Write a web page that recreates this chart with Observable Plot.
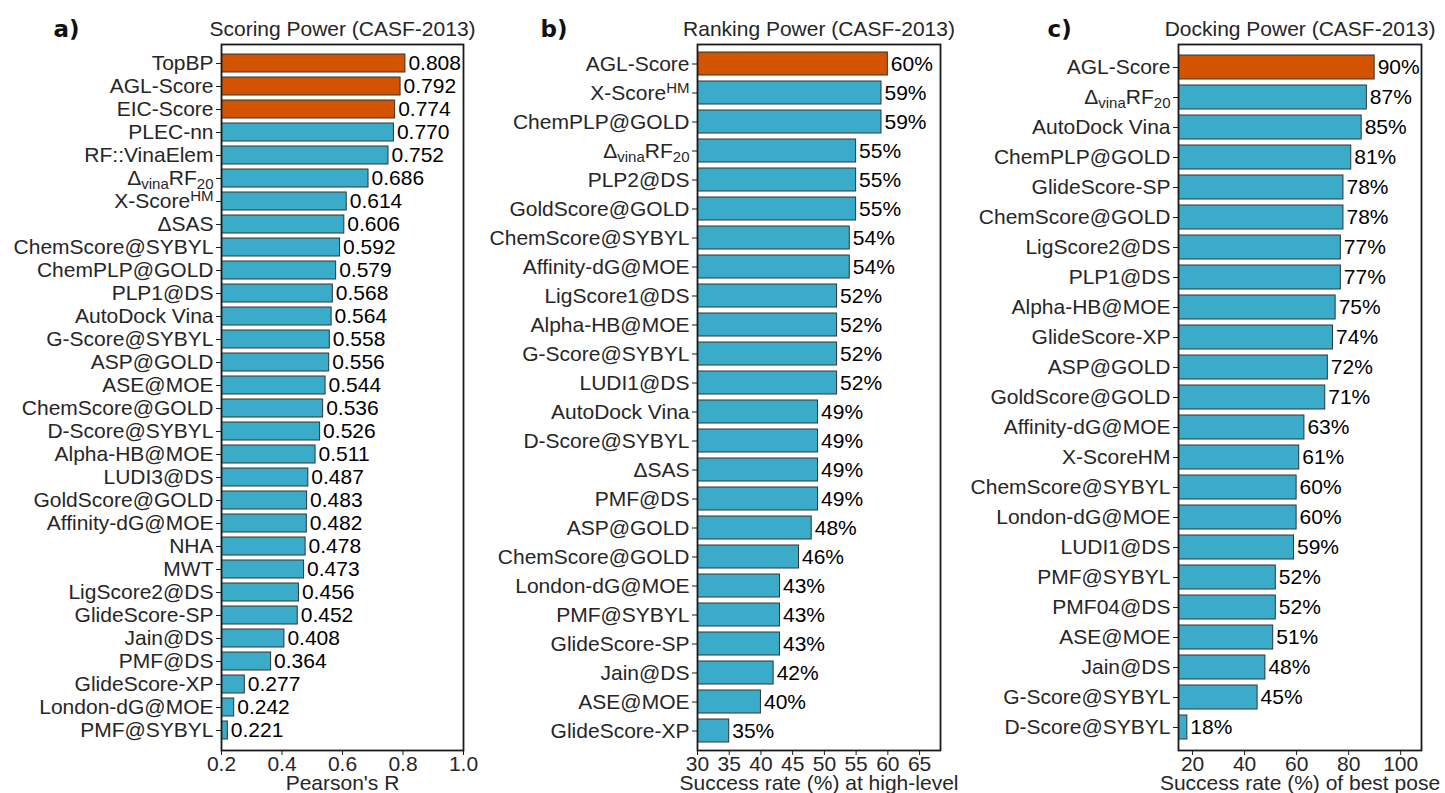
<!DOCTYPE html>
<html>
<head>
<meta charset="utf-8">
<script src="https://cdn.jsdelivr.net/npm/d3@7"></script>
<script src="https://cdn.jsdelivr.net/npm/@observablehq/plot@0.6"></script>
<style>
  html, body { margin: 0; padding: 0; background: #ffffff; }
  #wrap { position: relative; width: 1445px; height: 793px; overflow: hidden; }
  #wrap svg { position: absolute; top: 0; overflow: visible; }
</style>
</head>
<body>
<div id="wrap"></div>
<script>
// ---------- data ----------
const scoringNames = ["TopBP","AGL-Score","EIC-Score","PLEC-nn","RF::VinaElem","Δ_{vina}RF_{20}","X-Score^{HM}","ΔSAS","ChemScore@SYBYL","ChemPLP@GOLD","PLP1@DS","AutoDock Vina","G-Score@SYBYL","ASP@GOLD","ASE@MOE","ChemScore@GOLD","D-Score@SYBYL","Alpha-HB@MOE","LUDI3@DS","GoldScore@GOLD","Affinity-dG@MOE","NHA","MWT","LigScore2@DS","GlideScore-SP","Jain@DS","PMF@DS","GlideScore-XP","London-dG@MOE","PMF@SYBYL"];
const scoringValues = [0.808,0.792,0.774,0.770,0.752,0.686,0.614,0.606,0.592,0.579,0.568,0.564,0.558,0.556,0.544,0.536,0.526,0.511,0.487,0.483,0.482,0.478,0.473,0.456,0.452,0.408,0.364,0.277,0.242,0.221];
const scoringHighlight = ["TopBP","AGL-Score","EIC-Score"];

const rankingNames = ["AGL-Score","X-Score^{HM}","ChemPLP@GOLD","Δ_{vina}RF_{20}","PLP2@DS","GoldScore@GOLD","ChemScore@SYBYL","Affinity-dG@MOE","LigScore1@DS","Alpha-HB@MOE","G-Score@SYBYL","LUDI1@DS","AutoDock Vina","D-Score@SYBYL","ΔSAS","PMF@DS","ASP@GOLD","ChemScore@GOLD","London-dG@MOE","PMF@SYBYL","GlideScore-SP","Jain@DS","ASE@MOE","GlideScore-XP"];
const rankingValues = [60,59,59,55,55,55,54,54,52,52,52,52,49,49,49,49,48,46,43,43,43,42,40,35];
const rankingHighlight = ["AGL-Score"];

const dockingNames = ["AGL-Score","Δ_{vina}RF_{20}","AutoDock Vina","ChemPLP@GOLD","GlideScore-SP","ChemScore@GOLD","LigScore2@DS","PLP1@DS","Alpha-HB@MOE","GlideScore-XP","ASP@GOLD","GoldScore@GOLD","Affinity-dG@MOE","X-ScoreHM","ChemScore@SYBYL","London-dG@MOE","LUDI1@DS","PMF@SYBYL","PMF04@DS","ASE@MOE","Jain@DS","G-Score@SYBYL","D-Score@SYBYL"];
const dockingValues = [90,87,85,81,78,78,77,77,75,74,72,71,63,61,60,60,59,52,52,51,48,45,18];
const dockingHighlight = ["AGL-Score"];

const scoringTicks = [0.2,0.4,0.6,0.8,1.0];
const rankingTicks = [30,35,40,45,50,55,60,65];
const dockingTicks = [20,40,60,80,100];

const titles = ["Scoring Power (CASF-2013)","Ranking Power (CASF-2013)","Docking Power (CASF-2013)"];
const xLabels = ["Pearson's R","Success rate (%) at high-level","Success rate (%) of best pose"];
const letters = ["a)","b)","c)"];

// ---------- styling ----------
const ORANGE = "#D35400";
const BLUE = "#3AACC9";
const FONT = "'Liberation Sans', Arial, Helvetica, sans-serif";
const SVGNS = "http://www.w3.org/2000/svg";

function richify(svg) {
  svg.querySelectorAll('g[aria-label="y-axis tick label"] text').forEach(t => {
    const s = t.textContent;
    if (!/[_^]\{/.test(s)) return;
    t.textContent = "";
    const re = /([_^])\{([^}]*)\}|([^_^]+)/g;
    let m, shift = 0;
    while ((m = re.exec(s))) {
      const ts = document.createElementNS(SVGNS, "tspan");
      let target = 0;
      if (m[3] !== undefined) {
        ts.textContent = m[3];
      } else {
        ts.textContent = m[2];
        ts.setAttribute("font-size", "15px");
        target = m[1] === "_" ? 4 : -7;
      }
      const dy = target - shift;
      if (dy) ts.setAttribute("dy", dy);
      shift = target;
      t.appendChild(ts);
    }
  });
}

function panel(cfg) {
  const rows = cfg.names.map((n, i) => ({name: n, value: cfg.values[i]}));
  const svg = Plot.plot({
    width: cfg.width,
    height: 793,
    marginTop: 44,
    marginBottom: 43,
    marginLeft: cfg.marginLeft,
    marginRight: cfg.marginRight,
    style: {fontFamily: FONT, fontSize: "21px", color: "#262626", background: "transparent", overflow: "visible"},
    x: {domain: cfg.domain, axis: null},
    y: {domain: cfg.names, axis: null, paddingInner: 0.2, paddingOuter: 0.1},
    color: {type: "identity"},
    marks: [
      Plot.barX(rows, {x: "value", y: "name", fill: d => cfg.highlight.includes(d.name) ? ORANGE : BLUE, stroke: "#333333", strokeWidth: 1, clip: true}),
      Plot.text(rows, {x: "value", y: "name", text: d => cfg.valFmt(d.value), textAnchor: "start", dx: 3, fill: "#000000", fontSize: 21}),
      Plot.frame({stroke: "#1a1a1a", strokeWidth: 1.8}),
      Plot.axisY({tickSize: 5, tickPadding: 3, fontSize: 21, tickFormat: d => d, stroke: "#1a1a1a", label: null}),
      Plot.axisX({ticks: cfg.ticks, tickFormat: cfg.tickFmt, tickSize: 5, tickPadding: 1, fontSize: 21, label: null, stroke: "#1a1a1a"}),
      Plot.text([cfg.xLabel], {text: d => d, frameAnchor: "bottom", lineAnchor: "bottom", dy: 39, fontSize: 21, fill: "#262626"}),
      Plot.text([cfg.title], {text: d => d, frameAnchor: "top", lineAnchor: "bottom", dy: -9, fontSize: 21, fill: "#262626"}),
      Plot.text([cfg.letter], {text: d => d, frameAnchor: "top-left", textAnchor: "start", lineAnchor: "bottom", dx: cfg.letterX - cfg.marginLeft, dy: -8, fontFamily: "DejaVu Sans", fontWeight: "bold", fontSize: 23, fill: "#111111"})
    ]
  });
  svg.style.left = cfg.left + "px";
  richify(svg);
  document.getElementById("wrap").appendChild(svg);
}

panel({
  names: scoringNames, values: scoringValues, highlight: scoringHighlight,
  domain: [0.2, 1.0], ticks: scoringTicks, tickFmt: d3.format(".1f"), valFmt: d3.format(".3f"),
  title: titles[0], xLabel: xLabels[0], letter: letters[0],
  left: 0, width: 480, marginLeft: 221, marginRight: 17, letterX: 53
});
panel({
  names: rankingNames, values: rankingValues, highlight: rankingHighlight,
  domain: [30, 68.3], ticks: rankingTicks, tickFmt: d => String(d), valFmt: d => d + "%",
  title: titles[1], xLabel: xLabels[1], letter: letters[1],
  left: 480, width: 480, marginLeft: 217, marginRight: 20, letterX: 60
});
panel({
  names: dockingNames, values: dockingValues, highlight: dockingHighlight,
  domain: [14.6, 108], ticks: dockingTicks, tickFmt: d => String(d), valFmt: d => d + "%",
  title: titles[2], xLabel: xLabels[2], letter: letters[2],
  left: 960, width: 485, marginLeft: 218, marginRight: 24, letterX: 87
});
</script>
</body>
</html>
